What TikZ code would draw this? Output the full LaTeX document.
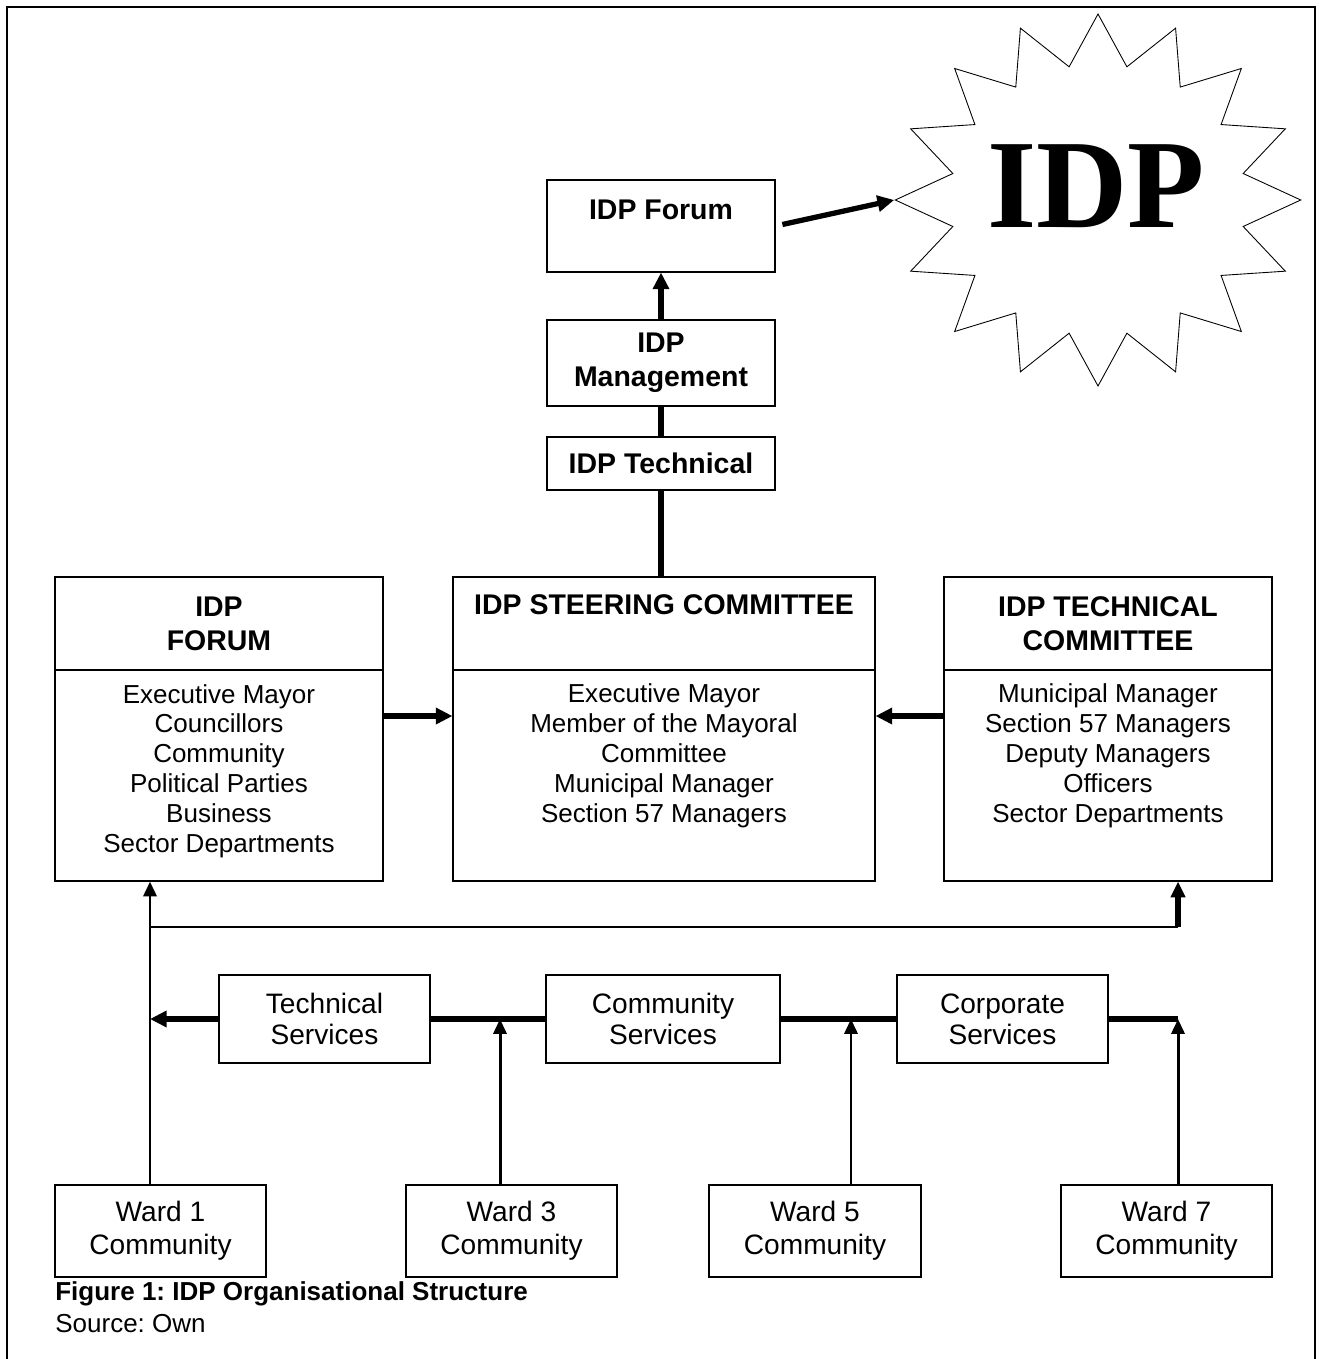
\documentclass[tikz,border=0pt]{standalone}
\usepackage{fontspec}
\setmainfont{Liberation Sans}
\newfontfamily\starfont{Liberation Serif}
\usetikzlibrary{positioning,arrows.meta,shapes.geometric}
\frenchspacing

\begin{document}
\begin{tikzpicture}[
  x=0.02cm, y=-0.02cm,
  font=\fontsize{14.8}{17}\selectfont,
  dims/.style 2 args={minimum width=#1*0.02cm, minimum height=#2*0.02cm},
  box/.style={draw, line width=0.6pt, inner sep=0pt, align=center},
  head/.style={align=center, font=\fontsize{16.2}{19.5}\selectfont\bfseries},
  list/.style={align=center},
  unit/.style={box, dims={211}{88}, font=\fontsize{16}{17.6}\selectfont},
  ward/.style={box, dims={211}{92}, font=\fontsize{16}{18.7}\selectfont},
  bar/.style={line width=3pt},
  fat/.style={bar, -{Triangle[length=9.5pt, width=9pt]}},
  slim/.style={line width=1.7pt, -{Triangle[length=8.5pt, width=7.5pt]}}]
  \useasboundingbox (0,0) rectangle (1322,1359);
  \draw[line width=0.6pt] (7,1359) -- (7,7) -- (1315,7) -- (1315,1359);

  % top column
  \node[box, dims={228}{92}] (topforum) at (661,226) {};
  \node[head] (topforumlbl) at (661,210) {IDP Forum};
  \node[box, head, dims={228}{86}] (mgmt) at (661,363) {IDP\\Management};
  \node[box, head, dims={228}{53}] (techn) at (661,463.5) {IDP Technical};

  % the star
  \node[star, star points=16, star point ratio=1.37, draw, line width=0.5pt, inner sep=0pt, minimum size=372*0.02cm, xscale=1.09] (idp) at (1098,200) {};
  \node[font=\starfont\bfseries\fontsize{72}{72}\selectfont] (idplbl) at (1096,186) {IDP};

  % committees
  \node[box, head, dims={328}{93}] (forumhead) at (219,623.5) {IDP\\FORUM};
  \node[box, dims={328}{211}] (forum) at (219,775.5) {};
  \node[list] (forumlist) at (219,771) {Executive Mayor\\Councillors\\Community\\Political Parties\\Business\\Sector Departments};
  \node[box, dims={422}{93}] (steerhead) at (664,623.5) {};
  \node[head] (steertitle) at (664,605) {IDP STEERING COMMITTEE};
  \node[box, dims={422}{211}] (steer) at (664,775.5) {};
  \node[list] (steerlist) at (664,756) {Executive Mayor\\Member of the Mayoral\\Committee\\Municipal Manager\\Section 57 Managers};
  \node[box, head, dims={328}{93}] (techhead) at (1108,623.5) {IDP TECHNICAL\\COMMITTEE};
  \node[box, dims={328}{211}] (tech) at (1108,775.5) {};
  \node[list] (techlist) at (1108,756) {Municipal Manager\\Section 57 Managers\\Deputy Managers\\Officers\\Sector Departments};

  % services
  \node[unit] (tserv) at (324.5,1019) {Technical\\Services};
  \node[unit, dims={234}{88}] (cserv) at (663,1019) {Community\\Services};
  \node[unit] (kserv) at (1002.5,1019) {Corporate\\Services};

  % wards
  \node[ward] (ward1) at (160.5,1231) {Ward 1\\Community};
  \node[ward] (ward3) at (511.5,1231) {Ward 3\\Community};
  \node[ward, dims={212}{92}] (ward5) at (815,1231) {Ward 5\\Community};
  \node[ward] (ward7) at (1166.5,1231) {Ward 7\\Community};

  \node[anchor=west, inner sep=0pt, font=\fontsize{14.8}{17}\selectfont\bfseries] (caption) at (55,1294) {Figure 1: IDP Organisational Structure};
  \node[anchor=west, inner sep=0pt] (source) at (55,1324) {Source: Own};

  % connectors
  \draw[fat] (mgmt) -- (topforum);
  \draw[bar] (techn) -- (mgmt);
  \draw[bar] (techn.south) -- (techn.south |- steerhead.north);
  \draw[fat, shorten <=4pt] (topforum.east) -- (idp.west);
  \draw[fat] ([yshift=1.19cm]forum.east) -- ([yshift=1.19cm]steer.west);
  \draw[fat] ([yshift=1.19cm]tech.west) -- ([yshift=1.19cm]steer.east);

  \coordinate (left) at (150,927);
  \coordinate (right) at (1178,927);
  \draw[slim] ([xshift=-0.21cm]ward1.north) -- ([xshift=-0.21cm]ward1.north |- forum.south);
  \draw[line width=0.6pt] (left) -- (right);
  \draw[bar, -{Triangle[length=9pt, width=8pt]}] (right) -- (right |- tech.south);

  \coordinate (sright) at (1178,1019);
  \coordinate (sleft) at (150,1019);
  \draw[bar] (sright) -- (kserv);
  \draw[bar] (kserv) -- (cserv);
  \draw[bar] (cserv) -- (tserv);
  \draw[fat] (tserv) -- (sleft);
  \draw[slim] ([xshift=-0.23cm]ward3.north) -- ([xshift=-0.23cm]ward3.north |- cserv.west);
  \draw[slim] ([xshift=0.72cm]ward5.north) -- ([xshift=0.72cm]ward5.north |- kserv.west);
  \draw[slim] (ward7.north -| sright) -- (sright);
\end{tikzpicture}
\end{document}
